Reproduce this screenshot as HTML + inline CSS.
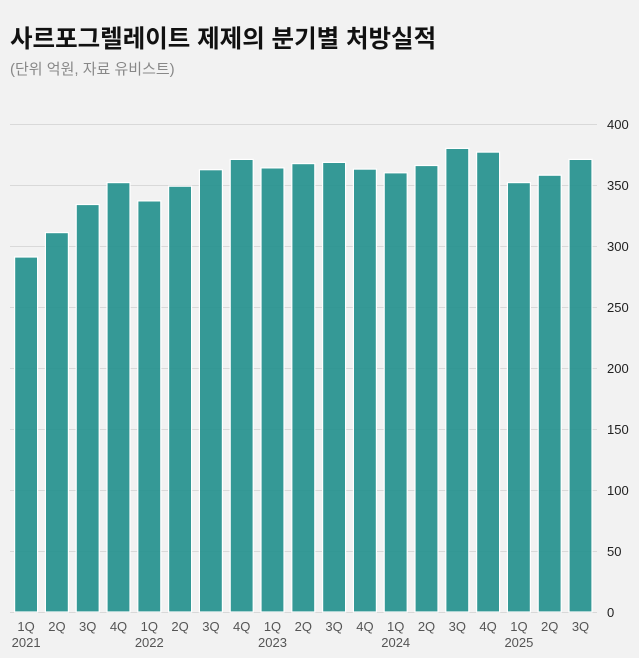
<!DOCTYPE html>
<html><head><meta charset="utf-8"><style>
body{margin:0;background:#f2f2f2;}
svg{display:block;font-family:"Liberation Sans","Noto Sans CJK KR",sans-serif;}
</style></head><body>
<svg width="639" height="658" xmlns="http://www.w3.org/2000/svg">
<rect width="639" height="658" fill="#f2f2f2"/>
<text x="10" y="47" font-size="24.5" font-weight="bold" fill="#111">사르포그렐레이트 제제의 분기별 처방실적</text>
<text x="10" y="74" font-size="15" fill="#888">(단위 억원, 자료 유비스트)</text>
<g stroke="#d9d9d9" stroke-width="1">
<line x1="10" x2="597" y1="124.5" y2="124.5"/><line x1="10" x2="597" y1="185.5" y2="185.5"/>
<line x1="10" x2="597" y1="246.5" y2="246.5"/><line x1="10" x2="597" y1="307.5" y2="307.5"/>
<line x1="10" x2="597" y1="368.5" y2="368.5"/><line x1="10" x2="597" y1="429.5" y2="429.5"/>
<line x1="10" x2="597" y1="490.5" y2="490.5"/><line x1="10" x2="597" y1="551.5" y2="551.5"/>
<line x1="10" x2="597" y1="612.5" y2="612.5"/>
</g>
<g font-size="13" fill="#222">
<text x="607" y="129">400</text><text x="607" y="190">350</text><text x="607" y="251">300</text>
<text x="607" y="312">250</text><text x="607" y="373">200</text><text x="607" y="434">150</text>
<text x="607" y="495">100</text><text x="607" y="556">50</text><text x="607" y="617">0</text>
</g>
<g fill="#2a9490" fill-opacity="0.95" stroke="#fff" stroke-width="1.2">
<rect x="14.6" y="257.0" width="23" height="355.0"/>
<rect x="45.4" y="232.6" width="23" height="379.4"/>
<rect x="76.2" y="204.5" width="23" height="407.5"/>
<rect x="107.0" y="182.6" width="23" height="429.4"/>
<rect x="137.8" y="200.9" width="23" height="411.1"/>
<rect x="168.6" y="186.2" width="23" height="425.8"/>
<rect x="199.4" y="169.7" width="23" height="442.3"/>
<rect x="230.2" y="159.4" width="23" height="452.6"/>
<rect x="261.0" y="167.9" width="23" height="444.1"/>
<rect x="291.8" y="163.6" width="23" height="448.4"/>
<rect x="322.6" y="162.4" width="23" height="449.6"/>
<rect x="353.4" y="169.1" width="23" height="442.9"/>
<rect x="384.2" y="172.8" width="23" height="439.2"/>
<rect x="415.0" y="165.5" width="23" height="446.5"/>
<rect x="445.8" y="148.4" width="23" height="463.6"/>
<rect x="476.6" y="152.1" width="23" height="459.9"/>
<rect x="507.4" y="182.6" width="23" height="429.4"/>
<rect x="538.2" y="175.2" width="23" height="436.8"/>
<rect x="569.0" y="159.4" width="23" height="452.6"/>
</g>
<g font-size="13" fill="#555" text-anchor="middle">
<text x="26.1" y="631">1Q</text><text x="56.9" y="631">2Q</text><text x="87.7" y="631">3Q</text><text x="118.5" y="631">4Q</text>
<text x="149.3" y="631">1Q</text><text x="180.1" y="631">2Q</text><text x="210.9" y="631">3Q</text><text x="241.7" y="631">4Q</text>
<text x="272.5" y="631">1Q</text><text x="303.3" y="631">2Q</text><text x="334.1" y="631">3Q</text><text x="364.9" y="631">4Q</text>
<text x="395.7" y="631">1Q</text><text x="426.5" y="631">2Q</text><text x="457.3" y="631">3Q</text><text x="488.1" y="631">4Q</text>
<text x="518.9" y="631">1Q</text><text x="549.7" y="631">2Q</text><text x="580.5" y="631">3Q</text>
<text x="26.1" y="647">2021</text><text x="149.3" y="647">2022</text><text x="272.5" y="647">2023</text><text x="395.7" y="647">2024</text><text x="518.9" y="647">2025</text>
</g>
</svg>
</body></html>
